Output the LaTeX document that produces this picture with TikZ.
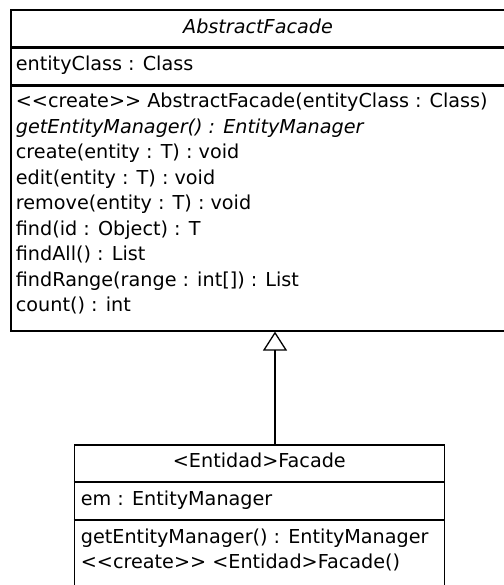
\documentclass[tikz,border=0pt]{standalone}
\usepackage{fontspec}
\setmainfont{DejaVu Sans}
\usetikzlibrary{arrows.meta}
\begin{document}
\begin{tikzpicture}[x=0.5pt,y=-0.5pt,
  classbox/.style={draw, line width=0.6pt, inner sep=0pt, fill=white},
  compsep/.style={line width=1.15pt},
  member/.style={anchor=base west, inner sep=0pt, font=\fontsize{9.6}{12}\selectfont},
  classname/.style={anchor=base, inner sep=0pt, font=\fontsize{9.6}{12}\selectfont},
  inherit/.style={line width=0.65pt,
    -{Triangle[open, length=9.5pt, width=12pt, line width=0.65pt]}}]
\useasboundingbox (0,0) rectangle (504,585);

% abstract superclass
\node[classbox, minimum width=247pt, minimum height=160.5pt] (abstract) at (258,170.5) {};
\draw[compsep] ([yshift=-19pt]abstract.north west) -- ([yshift=-19pt]abstract.north east);
\draw[compsep] ([yshift=-38pt]abstract.north west) -- ([yshift=-38pt]abstract.north east);
\node[classname] (absname) at (258,33) {\itshape AbstractFacade};
\node[member] (absattr) at (15.5,70.5) {entityClass : Class};
\node[member] (m1) at (15.5,107.5) {<{}<create>{}> AbstractFacade(entityClass : Class)};
\node[member] (m2) at (15.5,133) {\itshape getEntityManager() : EntityManager};
\node[member] (m3) at (15.5,158.5) {create(entity : T) : void};
\node[member] (m4) at (15.5,184) {edit(entity : T) : void};
\node[member] (m5) at (15.5,209.5) {remove(entity : T) : void};
\node[member] (m6) at (15.5,235) {find(id : Object) : T};
\node[member] (m7) at (15.5,260.5) {findAll() : List};
\node[member] (m8) at (15.5,286) {findRange(range : int[]) : List};
\node[member] (m9) at (15.5,311.5) {count() : int};

% concrete facade
\node[classbox, minimum width=185pt, minimum height=72.5pt] (facade) at (259.3,517.5) {};
\draw[compsep] ([yshift=-18.75pt]facade.north west) -- ([yshift=-18.75pt]facade.north east);
\draw[compsep] ([yshift=-37.75pt]facade.north west) -- ([yshift=-37.75pt]facade.north east);
\node[classname] (facname) at (259.3,467.5) {<Entidad>Facade};
\node[member] (facattr) at (80.5,505.5) {em : EntityManager};
\node[member] (f1) at (80.5,543) {getEntityManager() : EntityManager};
\node[member] (f2) at (80.5,568.5) {<{}<create>{}> <Entidad>Facade()};

% generalization
\coordinate (tip) at ([xshift=8.5pt]abstract.south);
\draw[inherit] (facade.north -| tip) -- (tip);
\end{tikzpicture}
\end{document}
